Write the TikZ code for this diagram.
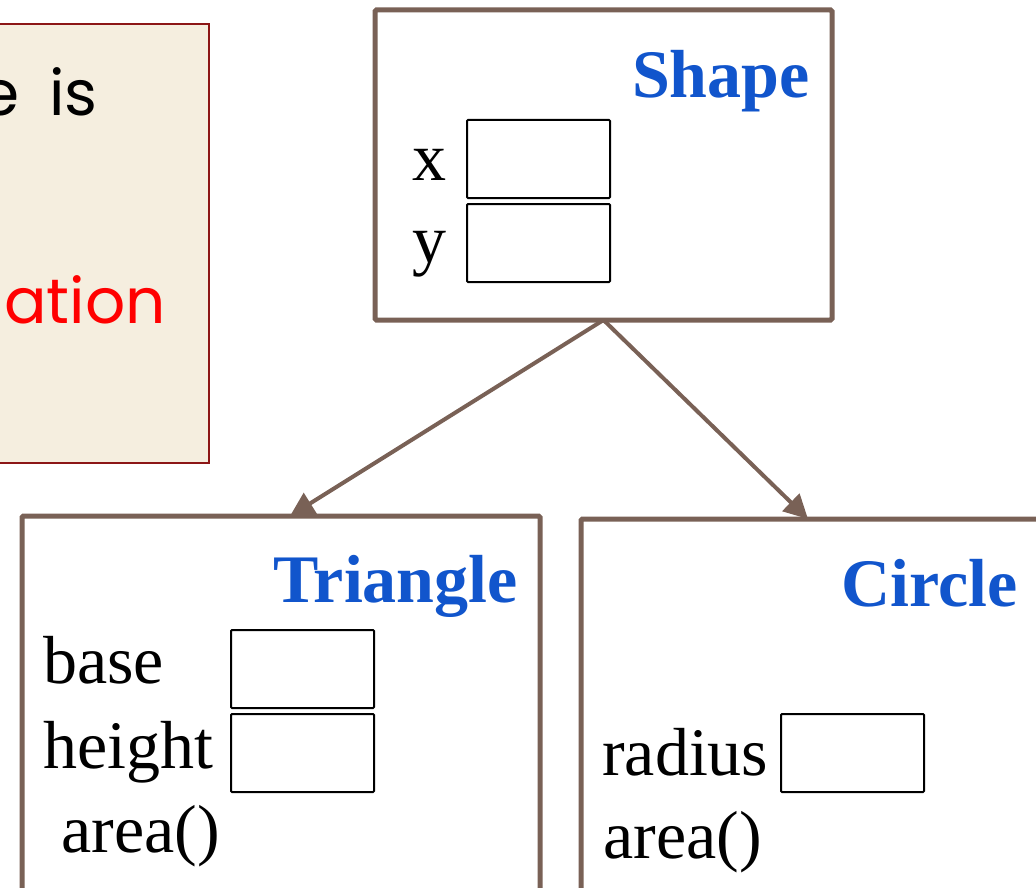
\documentclass[tikz,border=0pt]{standalone}
\usepackage{fontspec}
\setmainfont{Liberation Serif}
\newfontfamily\notefont{Poppins}
\usetikzlibrary{arrows.meta}
\definecolor{boxbrown}{RGB}{121,97,86}
\definecolor{titleblue}{RGB}{17,85,204}
\definecolor{notefill}{RGB}{245,238,223}
\definecolor{noteedge}{RGB}{140,22,22}
\definecolor{notered}{RGB}{255,0,0}
\tikzset{
  classbox/.style={draw=boxbrown, line width=5pt, fill=white, rounded corners=1.5pt,
    rectangle, inner sep=0pt, outer sep=0pt, anchor=north west},
  field/.style={draw=black, line width=2pt, rounded corners=1pt, rectangle,
    inner sep=0pt, outer sep=0pt, minimum width=143pt, minimum height=78pt, anchor=north west},
  title/.style={font=\fontsize{68}{80}\selectfont\bfseries, text=titleblue, anchor=base east, inner sep=0pt},
  member/.style={font=\fontsize{68}{80}\selectfont, anchor=base west, inner sep=0pt},
  inherit/.style={draw=boxbrown, line width=4pt, -{Triangle[length=24pt,width=24pt]}},
  notetext/.style={font=\notefont\fontsize{63}{74}\selectfont, anchor=base east, inner sep=0pt}
}
\begin{document}
\begin{tikzpicture}[x=1pt,y=-1pt]
\useasboundingbox (0,0) rectangle (1036,888);
\begin{scope}
\clip (0,0) rectangle (1036,888);

% note panel on the left, running past the page edge
\node[draw=noteedge, fill=notefill, line width=2pt, rectangle, inner sep=0pt,
  minimum width=250pt, minimum height=439pt, anchor=north east] (note) at (210,23) {};
\node[notetext] (noteA) at (98,116) {e\hspace{30pt}is};
\node[notetext, text=notered] (noteB) at (166,323) {ation};

% base class
\node[classbox, minimum width=457pt, minimum height=310pt] (shape) at (375,10) {};
\node[title] (shapeT) at (810,98) {Shape};
\node[member] (xL) at (412,180) {x};
\node[field] (xF) at (467,120) {};
\node[member] (yL) at (412,262) {y};
\node[field] (yF) at (467,204) {};

% derived class: triangle
\node[classbox, minimum width=518pt, minimum height=380pt] (tri) at (22,516) {};
\node[title] (triT) at (518,602) {Triangle};
\node[member] (baseL) at (43,683) {base};
\node[field] (baseF) at (231,630) {};
\node[member] (heightL) at (43,768) {height};
\node[field] (heightF) at (231,714) {};
\node[member] (triArea) at (61,852) {area()};

% derived class: circle
\node[classbox, minimum width=480pt, minimum height=380pt] (circ) at (581,519) {};
\node[title] (circT) at (1018,606) {Circle};
\node[member] (radL) at (602,775) {radius};
\node[field] (radF) at (781,714) {};
\node[member] (circArea) at (603,858) {area()};

% inheritance arrows
\draw[inherit] (shape.south) -- ([xshift=268pt]tri.north west);
\draw[inherit] (shape.south) -- ([xshift=227pt]circ.north west);
\end{scope}
\end{tikzpicture}
\end{document}
